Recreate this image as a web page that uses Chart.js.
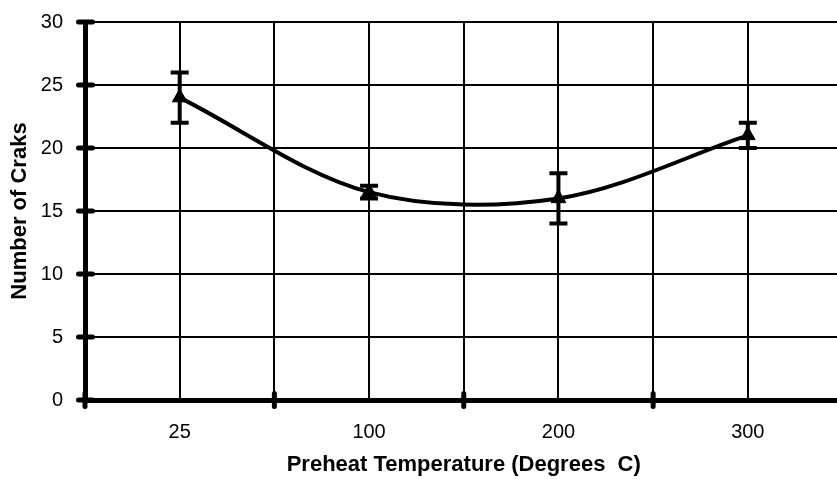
<!DOCTYPE html>
<html>
<head>
<meta charset="utf-8">
<script src="https://cdn.jsdelivr.net/npm/chart.js@4"></script>
<style>
  html, body { margin: 0; padding: 0; background: #fff; overflow: hidden; }
  #wrap { width: 852px; height: 479px; position: relative; }
</style>
</head>
<body>
<div id="wrap"><canvas id="c"></canvas></div>
<script>
const categories = ['25', '100', '200', '300'];
const cracks = [24, 16.5, 16, 21];
const errLow = [22, 16, 14, 20];
const errHigh = [26, 17, 18, 22];
const yTicks = [0, 5, 10, 15, 20, 25, 30];

const FONT = "'Liberation Sans', Arial, sans-serif";

const decor = {
  id: 'decor',
  afterDatasetsDraw(chart) {
    const ctx = chart.ctx, xs = chart.scales.x, ys = chart.scales.y;
    ctx.save();
    ctx.strokeStyle = '#000';
    ctx.lineWidth = 4;
    ctx.lineCap = 'butt';
    categories.forEach((c, i) => {
      const px = xs.getPixelForValue(i);
      const lo = ys.getPixelForValue(errLow[i]);
      const hi = ys.getPixelForValue(errHigh[i]);
      ctx.beginPath();
      ctx.moveTo(px, lo); ctx.lineTo(px, hi);
      ctx.moveTo(px - 9, lo); ctx.lineTo(px + 9, lo);
      ctx.moveTo(px - 9, hi); ctx.lineTo(px + 9, hi);
      ctx.stroke();
    });
    ctx.restore();
  },
  afterDraw(chart) {
    const ctx = chart.ctx, xs = chart.scales.x, ys = chart.scales.y;
    const a = chart.chartArea;
    ctx.save();
    ctx.strokeStyle = '#000';
    ctx.lineCap = 'round';
    ctx.lineWidth = 5;
    yTicks.forEach(v => {
      const py = ys.getPixelForValue(v);
      ctx.beginPath();
      ctx.moveTo(a.left - 6.5, py); ctx.lineTo(a.left + 7.5, py);
      ctx.stroke();
    });
    for (let i = -0.5; i < categories.length; i += 1) {
      const px = xs.getPixelForValue(i);
      ctx.beginPath();
      ctx.moveTo(px, a.bottom - 6.5); ctx.lineTo(px, a.bottom + 6.5);
      ctx.stroke();
    }
    ctx.restore();
  }
};

new Chart(document.getElementById('c'), {
  type: 'line',
  data: {
    datasets: [{
      data: categories.map((c, i) => ({ x: i, y: cracks[i] })),
      borderColor: '#000',
      backgroundColor: '#000',
      borderWidth: 4,
      pointStyle: 'triangle',
      pointRadius: 8.5,
      pointBorderWidth: 1,
      tension: 0.33,
      fill: false
    }]
  },
  plugins: [decor],
  options: {
    responsive: true,
    maintainAspectRatio: false,
    animation: false,
    events: [],
    layout: { padding: { top: 22, right: 7, left: 0, bottom: 0 } },
    plugins: { legend: { display: false }, tooltip: { enabled: false } },
    scales: {
      x: {
        type: 'linear',
        min: -0.5, max: 3.5,
        afterFit(s) { s.height = 79; s.paddingLeft = 0; s.paddingRight = 0; },
        ticks: {
          stepSize: 0.5,
          autoSkip: false,
          maxRotation: 0,
          padding: 20,
          color: '#000',
          font: { family: FONT, size: 20 },
          callback(v) { return Number.isInteger(v) ? categories[v] : ''; }
        },
        grid: { color: '#000', lineWidth: 2, drawTicks: false },
        border: { color: '#000', width: 5 },
        title: {
          display: true,
          text: 'Preheat Temperature (Degrees  C)',
          color: '#000',
          font: { family: FONT, size: 22, weight: 'bold' },
          padding: { top: 0, bottom: 0.5 }
        }
      },
      y: {
        min: 0, max: 30,
        afterFit(s) { s.width = 85; s.paddingTop = 0; s.paddingBottom = 0; },
        ticks: {
          stepSize: 5,
          padding: 22,
          color: '#000',
          font: { family: FONT, size: 20 }
        },
        grid: { color: '#000', lineWidth: 2, drawTicks: false },
        border: { color: '#000', width: 5 },
        title: {
          display: true,
          text: 'Number of Craks',
          color: '#000',
          font: { family: FONT, size: 22, weight: 'bold' },
          padding: { top: 7, bottom: 0 }
        }
      }
    }
  }
});
</script>
</body>
</html>
